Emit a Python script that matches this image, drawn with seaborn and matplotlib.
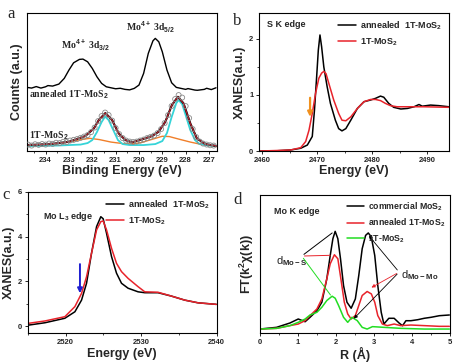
import numpy as np
import matplotlib
matplotlib.use("Agg")
import matplotlib.pyplot as plt
import matplotlib.ticker as mt
import seaborn as sns

# ---------- panel a : XPS Mo 3d ----------
xps_e_ann = [234.8, 234.6, 234.4, 234.2, 234.0, 233.9, 233.7, 233.43, 233.2, 233.0, 232.8, 232.55, 232.4,
             232.2, 232.0, 231.8, 231.6, 231.4, 231.0, 230.8, 230.6, 230.4, 230.2, 230.0, 229.8, 229.6,
             229.4, 229.3, 229.15, 229.0, 228.8, 228.6, 228.4, 228.0, 227.9, 227.6, 227.5, 227.2, 227.1,
             226.9, 226.7]
xps_ann = [63.7, 63.0, 64.5, 63.0, 64.3, 65.5, 65.0, 67.0, 72.7, 81.0, 88.3, 91.7, 92.0,
           89.3, 82.7, 74.3, 67.7, 64.3, 62.3, 62.8, 61.7, 61.2, 62.7, 66.0, 77.7, 97.7,
           110.3, 112.7, 109.3, 99.3, 81.0, 68.3, 63.7, 61.7, 62.5, 61.0, 60.8, 61.7, 62.8,
           61.5, 63.3]

xps_e_fit = [234.8, 234.0, 233.5, 233.0, 232.3, 231.93, 231.72, 231.44, 231.15, 230.87, 230.58, 230.3,
             229.87, 229.44, 229.16, 228.87, 228.59, 228.33, 228.09, 227.8, 227.52, 227.16, 226.66]
xps_fit = [6.0, 6.8, 7.8, 9.3, 15.0, 22.7, 31.0, 38.0, 31.0, 17.7, 11.0, 8.7,
           11.7, 15.0, 19.3, 29.3, 46.0, 54.3, 47.7, 27.7, 12.7, 7.0, 5.0]

xps_e_raw = [234.75, 234.60, 234.45, 234.30, 234.15, 234.00, 233.85, 233.70, 233.55, 233.40, 233.25,
             233.10, 232.95, 232.80, 232.65, 232.50, 232.35, 232.20, 232.05, 231.90, 231.75, 231.60,
             231.45, 231.30, 231.15, 231.00, 230.85, 230.70, 230.55, 230.40, 230.25, 230.10, 229.95,
             229.80, 229.65, 229.50, 229.35, 229.20, 229.05, 228.90, 228.75, 228.60, 228.45, 228.30,
             228.15, 228.00, 227.85, 227.70, 227.55, 227.40, 227.25, 227.10, 226.95, 226.80]
xps_raw = [6.5, 5.5, 6.8, 6.2, 7.0, 6.5, 7.5, 7.2, 8.3, 8.0, 9.2,
           9.0, 10.5, 11.2, 12.0, 13.2, 14.5, 16.0, 19.0, 23.5, 30.0, 35.0,
           38.5, 36.0, 30.5, 23.0, 17.0, 13.0, 10.5, 9.5, 9.0, 9.5, 10.5,
           11.5, 13.0, 14.2, 15.5, 18.0, 22.0, 28.0, 36.0, 45.0, 52.0, 56.0,
           53.5, 45.0, 33.0, 22.0, 14.0, 9.5, 7.5, 6.5, 5.8, 5.5]

xps_e_cyan = [234.8, 233.5, 232.5, 232.2, 232.0, 231.8, 231.6, 231.45, 231.3, 231.1, 230.9, 230.7,
              230.4, 229.8, 229.3, 229.0, 228.8, 228.6, 228.4, 228.3, 228.15, 228.0, 227.8, 227.6,
              227.4, 227.0, 226.65]
xps_cyan = [5.0, 5.5, 6.5, 8.0, 11.0, 19.0, 29.0, 34.5, 31.0, 21.0, 11.0, 7.0,
            6.0, 6.0, 7.0, 10.0, 18.0, 34.0, 48.0, 51.0, 47.0, 36.0, 21.0, 11.0,
            7.0, 5.5, 5.0]

xps_e_orange = [234.8, 234.0, 233.0, 232.5, 232.1, 231.7, 231.2, 230.7, 230.3, 229.9, 229.4, 229.0,
                228.7, 228.3, 227.8, 227.3, 226.65]
xps_orange = [4.5, 6.0, 9.0, 11.5, 12.7, 11.5, 9.0, 7.5, 7.0, 8.5, 12.0, 14.8,
              14.5, 12.0, 9.0, 6.5, 4.5]

# ---------- panel b : S K edge ----------
sk_e_ann = [2459.4, 2462.7, 2465.2, 2467.0, 2468.2, 2469.1, 2469.5, 2469.9, 2470.2, 2470.5, 2470.8,
            2471.2, 2471.8, 2472.4, 2473.3, 2473.9, 2474.5, 2475.2, 2476.1, 2477.3, 2478.5, 2479.7,
            2480.6, 2481.5, 2482.1, 2483.0, 2483.9, 2485.2, 2486.4, 2487.6, 2488.5, 2489.1, 2490.6,
            2492.1, 2493.9]
sk_ann = [0.0, 0.005, 0.02, 0.05, 0.107, 0.26, 0.73, 1.33, 1.80, 2.07, 1.86,
          1.50, 1.15, 0.85, 0.55, 0.40, 0.36, 0.40, 0.55, 0.76, 0.88, 0.91,
          0.94, 0.98, 0.96, 0.85, 0.78, 0.75, 0.76, 0.79, 0.83, 0.80, 0.82,
          0.81, 0.79]
sk_e_1t = [2459.4, 2462.7, 2465.2, 2467.0, 2467.9, 2468.5, 2469.1, 2469.7, 2470.3, 2470.8, 2471.2,
           2471.6, 2472.1, 2473.0, 2473.9, 2474.5, 2475.2, 2476.1, 2477.3, 2478.5, 2479.7, 2480.6,
           2481.5, 2482.4, 2483.3, 2484.5, 2486.4, 2489.4, 2493.9]
sk_1t = [0.0, 0.01, 0.02, 0.06, 0.17, 0.37, 0.67, 1.03, 1.30, 1.39, 1.42,
         1.38, 1.21, 0.91, 0.67, 0.55, 0.54, 0.61, 0.76, 0.88, 0.92, 0.92,
         0.90, 0.85, 0.81, 0.79, 0.79, 0.79, 0.78]

# ---------- panel c : Mo L3 edge ----------
ml_e = [2515.0, 2517.27, 2519.9, 2521.23, 2522.11, 2522.77, 2523.43, 2524.10, 2524.66, 2524.97, 2525.42,
        2526.08, 2526.74, 2527.40, 2528.27, 2529.59, 2530.48, 2532.23, 2534.0, 2535.76, 2537.52, 2539.95]
ml_ann = [0.05, 0.16, 0.36, 0.65, 1.17, 1.92, 3.26, 4.45, 4.89, 4.80, 4.15,
          3.11, 2.37, 1.92, 1.70, 1.54, 1.50, 1.50, 1.35, 1.17, 1.05, 0.98]
ml_1t = [0.13, 0.24, 0.43, 0.88, 1.47, 2.21, 3.26, 4.30, 4.67, 4.70, 4.30,
         3.48, 2.81, 2.44, 2.14, 1.77, 1.54, 1.52, 1.35, 1.17, 1.05, 0.98]

# ---------- panel d : Mo K edge FT ----------
r_com = [0.0, 0.44, 0.79, 1.01, 1.19, 1.32, 1.50, 1.63, 1.76, 1.85, 1.92, 1.98, 2.05, 2.12, 2.20,
         2.29, 2.40, 2.51, 2.60, 2.69, 2.78, 2.85, 2.93, 3.02, 3.10, 3.19, 3.26, 3.39, 3.53, 3.66,
         3.75, 3.84, 3.97, 4.15, 4.32, 4.50, 4.72, 4.98]
ft_com = [4.0, 5.7, 10.0, 14.0, 11.3, 15.7, 22.3, 30.7, 54.0, 77.3, 94.0, 101.3, 94.0, 74.0, 47.3,
          30.7, 24.7, 34.0, 57.3, 84.0, 97.3, 99.7, 95.7, 77.3, 47.3, 20.7, 9.0, 14.7, 14.7, 10.0,
          7.3, 12.3, 12.3, 13.3, 14.7, 15.7, 17.3, 18.0]
r_ann = [0.0, 0.44, 0.79, 1.01, 1.19, 1.32, 1.50, 1.63, 1.76, 1.85, 1.96, 2.05, 2.13, 2.22, 2.31,
         2.40, 2.51, 2.60, 2.69, 2.82, 2.93, 3.02, 3.10, 3.22, 3.35, 3.53, 3.70, 3.97, 4.32, 4.72,
         4.98]
ft_ann = [4.0, 4.7, 7.4, 9.0, 12.4, 17.4, 24.0, 34.0, 54.0, 69.0, 78.0, 74.0, 54.0, 30.7, 19.0,
          14.0, 17.4, 27.4, 37.4, 41.4, 39.0, 30.7, 17.4, 9.0, 7.4, 9.0, 7.4, 8.0, 7.4, 6.7,
          6.7]
r_1t = [0.0, 0.44, 0.79, 1.01, 1.19, 1.32, 1.50, 1.63, 1.76, 1.90, 1.98, 2.07, 2.20, 2.31, 2.42,
        2.56, 2.69, 2.82, 2.96, 3.26, 3.70, 4.32, 4.98]
ft_1t = [4.0, 4.7, 7.4, 10.7, 14.0, 18.0, 20.7, 25.7, 32.4, 36.7, 34.7, 27.4, 15.7, 10.7, 15.7,
         12.4, 5.7, 4.0, 6.4, 5.7, 4.7, 4.0, 4.0]

sns.set_style("ticks")
plt.rcParams["font.family"] = ["Liberation Sans", "DejaVu Sans"]
plt.rcParams["font.weight"] = "bold"
plt.rcParams["axes.labelweight"] = "bold"
plt.rcParams["mathtext.fontset"] = "custom"
plt.rcParams["mathtext.rm"] = "Liberation Sans"
plt.rcParams["mathtext.bf"] = "Liberation Sans:bold"
plt.rcParams["mathtext.it"] = "Liberation Sans:italic"
plt.rcParams["mathtext.default"] = "bf"
plt.rcParams["xtick.direction"] = "out"
plt.rcParams["ytick.direction"] = "out"

RED = "#e8232b"
GREEN = "#22dd22"

fig = plt.figure(figsize=(4.64, 3.64), dpi=100)
ax_a = fig.add_axes([0.058, 0.585, 0.410, 0.379])
ax_b = fig.add_axes([0.558, 0.585, 0.409, 0.379])
ax_c = fig.add_axes([0.060, 0.085, 0.407, 0.388])
ax_d = fig.add_axes([0.560, 0.085, 0.410, 0.379])

for ax in (ax_a, ax_b, ax_c, ax_d):
    for s in ax.spines.values():
        s.set_linewidth(0.8)
        s.set_color("black")
    ax.tick_params(labelsize=5.5, width=0.7, length=2.5, pad=1.5)
    ax.tick_params(which="minor", width=0.6, length=1.5)

# ----- a -----
sns.lineplot(x=xps_e_ann, y=xps_ann, ax=ax_a, color="black", lw=1.0)
sns.lineplot(x=xps_e_orange, y=xps_orange, ax=ax_a, color="#f07f2a", lw=1.0)
sns.lineplot(x=xps_e_cyan, y=xps_cyan, ax=ax_a, color="#35d4d8", lw=1.3)
sns.lineplot(x=xps_e_fit, y=xps_fit, ax=ax_a, color="black", lw=1.5)
sns.lineplot(x=xps_e_fit, y=xps_fit, ax=ax_a, color="#b0202c", lw=0.9)
sns.scatterplot(x=xps_e_raw, y=xps_raw, ax=ax_a, marker="o", s=13, facecolor="none",
                edgecolor="#8a8a8a", linewidth=0.6, zorder=5)
ax_a.set_xlim(234.8, 226.65)
ax_a.set_ylim(0, 138)
ax_a.set_yticks([])
ax_a.xaxis.set_major_locator(mt.MultipleLocator(1))
ax_a.xaxis.set_minor_locator(mt.MultipleLocator(0.5))
ax_a.set_xlabel("Binding Energy (eV)", fontsize=9, labelpad=1)
ax_a.set_ylabel("Counts (a.u.)", fontsize=9, labelpad=3)
serif = dict(family=["Liberation Serif", "DejaVu Serif"], weight="bold", fontsize=7)
ax_a.text(232.29, 106, "Mo$^{4+}$ 3d$_{3/2}$", ha="center", va="center", **serif)
ax_a.text(229.51, 124, "Mo$^{4+}$ 3d$_{5/2}$", ha="center", va="center", **serif)
ax_a.text(234.73, 56, "annealed 1T-MoS$_2$", ha="left", va="center", **serif)
ax_a.text(234.73, 15, "1T-MoS$_2$", ha="left", va="center", **serif)

# ----- b -----
sns.lineplot(x=sk_e_ann, y=sk_ann, ax=ax_b, color="black", lw=1.1, label="annealed  1T-MoS$_2$")
sns.lineplot(x=sk_e_1t, y=sk_1t, ax=ax_b, color=RED, lw=1.1, label="1T-MoS$_2$")
ax_b.set_xlim(2459.4, 2493.9)
ax_b.set_ylim(0, 2.46)
ax_b.xaxis.set_major_locator(mt.MultipleLocator(10))
ax_b.xaxis.set_minor_locator(mt.MultipleLocator(5))
ax_b.yaxis.set_major_locator(mt.MultipleLocator(1))
ax_b.yaxis.set_minor_locator(mt.MultipleLocator(0.5))
ax_b.set_xlabel("Energy (eV)", fontsize=9, labelpad=1)
ax_b.set_ylabel("XANES(a.u.)", fontsize=9, labelpad=2)
ax_b.legend(loc="upper right", frameon=False, fontsize=6.5, handlelength=2.0,
            handletextpad=0.5, labelspacing=0.5, borderaxespad=0.3)
ax_b.text(2460.9, 2.25, "S K edge", fontsize=6.5, va="center")
ax_b.annotate("", xy=(2468.7, 0.56), xytext=(2468.7, 1.0),
              arrowprops=dict(arrowstyle="-|>", color="#f0901e", lw=1.6, mutation_scale=7))

# ----- c -----
sns.lineplot(x=ml_e, y=ml_ann, ax=ax_c, color="black", lw=1.1, label="annealed  1T-MoS$_2$")
sns.lineplot(x=ml_e, y=ml_1t, ax=ax_c, color=RED, lw=1.1, label="1T-MoS$_2$")
ax_c.set_xlim(2515, 2540)
ax_c.set_ylim(-0.3, 6)
ax_c.xaxis.set_major_locator(mt.MultipleLocator(10))
ax_c.xaxis.set_minor_locator(mt.MultipleLocator(5))
ax_c.yaxis.set_major_locator(mt.MultipleLocator(2))
ax_c.yaxis.set_minor_locator(mt.MultipleLocator(1))
ax_c.set_xlabel("Energy (eV)", fontsize=9, labelpad=2)
ax_c.set_ylabel("XANES(a.u.)", fontsize=9, labelpad=2)
ax_c.legend(loc="upper right", frameon=False, fontsize=6.5, handlelength=2.0,
            handletextpad=0.5, labelspacing=0.5, borderaxespad=0.3)
ax_c.text(2517.0, 4.89, "Mo L$_3$ edge", fontsize=6.5, va="center")
ax_c.annotate("", xy=(2521.9, 1.35), xytext=(2521.9, 2.9),
              arrowprops=dict(arrowstyle="-|>", color="#2020d0", lw=1.4, mutation_scale=7))

# ----- d -----
sns.lineplot(x=r_com, y=ft_com, ax=ax_d, color="black", lw=1.1, label="commercial MoS$_2$")
sns.lineplot(x=r_ann, y=ft_ann, ax=ax_d, color=RED, lw=1.1, label="annealed 1T-MoS$_2$")
sns.lineplot(x=r_1t, y=ft_1t, ax=ax_d, color=GREEN, lw=1.1, label="1T-MoS$_2$")
ax_d.set_xlim(0, 5)
ax_d.set_ylim(0, 137.4)
ax_d.set_yticks([])
ax_d.xaxis.set_major_locator(mt.MultipleLocator(1))
ax_d.xaxis.set_minor_locator(mt.MultipleLocator(0.5))
ax_d.set_xlabel("R (Å)", fontsize=9, labelpad=1)
ax_d.set_ylabel("FT(k$^2\\chi$(k))", fontsize=9, labelpad=3)
ax_d.legend(loc="upper right", frameon=False, fontsize=6.3, handlelength=2.0,
            handletextpad=0.4, labelspacing=0.45, borderaxespad=0.2)
ax_d.text(0.38, 120.7, "Mo K edge", fontsize=6.5, va="center")
ax_d.text(0.42, 72, "d$_{\\mathrm{Mo-S}}$", fontsize=8, va="center", weight="normal")
ax_d.text(3.72, 58, "d$_{\\mathrm{Mo-Mo}}$", fontsize=8, va="center", weight="normal")
for (tx, ty), c in [((1.96, 101.4), "black"), ((1.92, 77.5), RED), ((1.90, 35.7), GREEN)]:
    ax_d.annotate("", xy=(tx, ty), xytext=(1.10, 76.7),
                  arrowprops=dict(arrowstyle="-", color=c, lw=0.7))
for (tx, ty), c in [((2.82, 99.0), "black"), ((2.87, 44.0), RED), ((2.42, 12.4), "black")]:
    ax_d.annotate("", xy=(tx, ty), xytext=(3.66, 60.7),
                  arrowprops=dict(arrowstyle="-|>", color=c, lw=0.6, mutation_scale=5))

# panel letters
letter = dict(family=["Liberation Serif", "DejaVu Serif"], fontsize=12, weight="normal")
fig.text(0.015, 0.950, "a", **letter)
fig.text(0.503, 0.931, "b", **letter)
fig.text(0.005, 0.453, "c", **letter)
fig.text(0.503, 0.440, "d", **letter)

fig.savefig("out.png", dpi=100)
